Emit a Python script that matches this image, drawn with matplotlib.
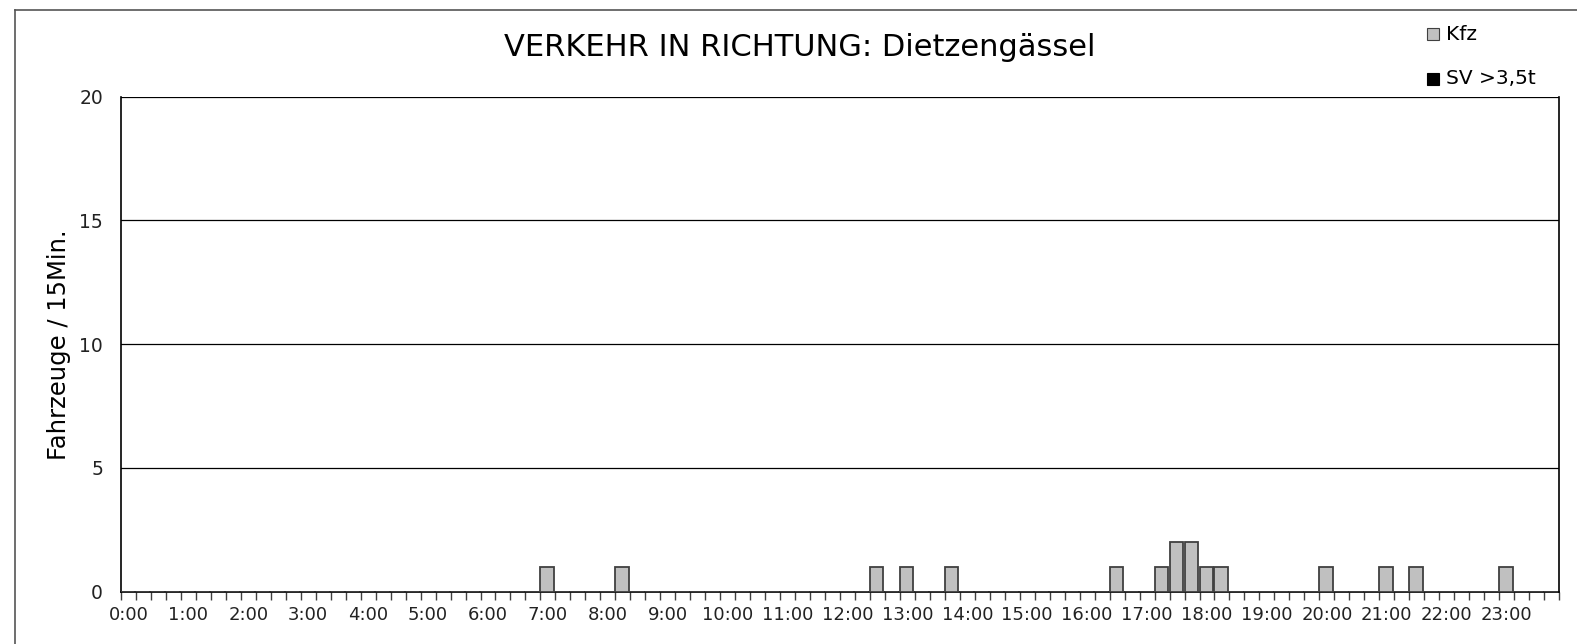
import matplotlib
matplotlib.use("Agg")
import matplotlib.pyplot as plt
from matplotlib.lines import Line2D
from matplotlib.patches import Rectangle

plt.rcParams['font.family'] = ['DejaVu Sans']

title = "VERKEHR IN RICHTUNG: Dietzengässel"
ylabel = "Fahrzeuge / 15Min."
series_names = ["Kfz", "SV >3,5t"]
hour_labels = [f"{h}:00" for h in range(24)]

# 96 quarter-hour intervals: index -> count (all others zero)
kfz_nonzero = {28: 1, 33: 1, 50: 1, 52: 1, 55: 1, 66: 1, 69: 1, 70: 2, 71: 2,
               72: 1, 73: 1, 80: 1, 84: 1, 86: 1, 92: 1}
kfz = [kfz_nonzero.get(i, 0) for i in range(96)]
sv = [0] * 96
yticks = [0, 5, 10, 15, 20]

W, H = 1577, 644
fig = plt.figure(figsize=(W / 100, H / 100), dpi=100)
ax = fig.add_axes([121 / W, 1 - 591.7 / H, (1559 - 121) / W, (591.7 - 96.7) / H])

x = list(range(96))
ax.bar(x, kfz, width=0.9, align='edge', color='#c0c0c0', edgecolor='#404040', linewidth=1.3, zorder=3)
ax.bar(x, sv, width=0.9, align='edge', color='#000000', edgecolor='#000000', linewidth=0, zorder=4)

ax.set_xlim(0, 96)
ax.set_ylim(0, 20)
ax.set_yticks(yticks)
ax.set_yticklabels([str(v) for v in yticks], fontsize=13.5, color='#222222')
ax.tick_params(axis='y', length=0, pad=13)
for v in yticks[1:]:
    ax.axhline(v, color='black', linewidth=0.9, zorder=1)

ax.set_xticks(range(97), minor=False)
ax.set_xticklabels([])
ax.tick_params(axis='x', which='major', length=6, width=1, color='#404040', direction='out')
ax.set_xticks([i * 4 + 0.5 for i in range(24)], minor=True)
ax.set_xticklabels(hour_labels, minor=True, fontsize=13, color='#222222')
ax.tick_params(axis='x', which='minor', length=0, pad=10)

ax.spines['top'].set_visible(False)
ax.spines['right'].set_linewidth(1.2)
ax.spines['left'].set_linewidth(1.2)
ax.spines['bottom'].set_linewidth(1.2)

ax.set_ylabel(ylabel, fontsize=17.5)
ax.yaxis.set_label_coords(-((121 - 71) / (1559 - 121)), 0.5)

fig.text(800 / W, 1 - 48 / H, title, ha='center', va='center', fontsize=22, color='black')

# legend
sq = 12
fig.patches.append(Rectangle((1427 / W, 1 - 40 / H), sq / W, sq / H, transform=fig.transFigure,
                             facecolor='#c0c0c0', edgecolor='#404040', linewidth=0.8))
fig.text(1446 / W, 1 - 34 / H, series_names[0], ha='left', va='center', fontsize=14.5)
fig.patches.append(Rectangle((1427 / W, 1 - 85 / H), sq / W, sq / H, transform=fig.transFigure,
                             facecolor='black', edgecolor='black', linewidth=0.8))
fig.text(1446 / W, 1 - 79 / H, series_names[1], ha='left', va='center', fontsize=14.5)

# outer frame (left and top)
fig.add_artist(Line2D([15 / W, 15 / W], [0, 1 - 10 / H], transform=fig.transFigure, color='#555555', lw=1.2))
fig.add_artist(Line2D([15 / W, 1], [1 - 10 / H, 1 - 10 / H], transform=fig.transFigure, color='#555555', lw=1.2))

fig.savefig("out.png", dpi=100)
